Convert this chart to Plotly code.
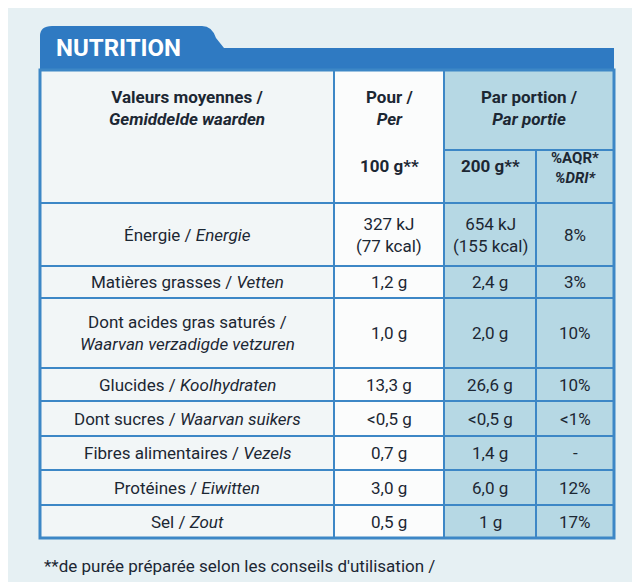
import plotly.graph_objects as go

labels = ["Énergie / <i>Energie</i>", "Matières grasses / <i>Vetten</i>",
          "Dont acides gras saturés /<br><i>Waarvan verzadigde vetzuren</i>",
          "Glucides / <i>Koolhydraten</i>", "Dont sucres / <i>Waarvan suikers</i>",
          "Fibres alimentaires / <i>Vezels</i>", "Protéines / <i>Eiwitten</i>",
          "Sel / <i>Zout</i>"]
per100 = ["327 kJ<br>(77 kcal)", "1,2 g", "1,0 g", "13,3 g", "<0,5 g", "0,7 g", "3,0 g", "0,5 g"]
per200 = ["654 kJ<br>(155 kcal)", "2,4 g", "2,0 g", "26,6 g", "<0,5 g", "1,4 g", "6,0 g", "1 g"]
pct = ["8%", "3%", "10%", "10%", "<1%", "-", "12%", "17%"]
row_edges = [195, 258, 290, 360, 393, 428, 462, 497, 530]

cols = [32, 326, 436, 528, 606]
LINE = "#3d87c6"
TXT = "#1c2733"
FONT = "Liberation Sans Narrow, Roboto, Arial"

fig = go.Figure()
shapes = []
ann = []

shapes.append(dict(type="rect", x0=-20, x1=660, y0=-20, y1=600, fillcolor="#e6f0f3", line_width=0, layer="below"))
shapes.append(dict(type="path", path="M 32 62 L 32 28 Q 32 18 44 18 L 194 18 Q 204 18 208 30 L 216 40 L 606 40 L 606 62 Z",
                   fillcolor="#2f7ac2", line_width=0, layer="below"))
ann.append(dict(x=46, y=40, text="<b>NUTRITION</b>", showarrow=False, xanchor="left",
                font=dict(size=24, color="white", family=FONT)))
shapes.append(dict(type="rect", x0=cols[0], x1=cols[1], y0=62, y1=530, fillcolor="#f2f6f7", line_width=0, layer="below"))
shapes.append(dict(type="rect", x0=cols[1], x1=cols[2], y0=62, y1=530, fillcolor="#fbfcfc", line_width=0, layer="below"))
shapes.append(dict(type="rect", x0=cols[2], x1=cols[4], y0=62, y1=530, fillcolor="#b6d8e4", line_width=0, layer="below"))
shapes.append(dict(type="rect", x0=cols[0], x1=cols[4], y0=62, y1=530, line=dict(color=LINE, width=3)))
for x in cols[1:-1]:
    y0 = 142 if x == cols[3] else 62
    shapes.append(dict(type="line", x0=x, x1=x, y0=y0, y1=530, line=dict(color=LINE, width=2)))
shapes.append(dict(type="line", x0=cols[2], x1=cols[4], y0=142, y1=142, line=dict(color=LINE, width=2)))
for y in row_edges[:-1]:
    shapes.append(dict(type="line", x0=cols[0], x1=cols[4], y0=y, y1=y, line=dict(color=LINE, width=2)))

c0 = (cols[0] + cols[1]) / 2
c1 = (cols[1] + cols[2]) / 2
c2 = (cols[2] + cols[3]) / 2
c3 = (cols[3] + cols[4]) / 2
f = dict(size=17, color=TXT, family=FONT)
ann.append(dict(x=c0, y=100, text="<b>Valeurs moyennes /<br><i>Gemiddelde waarden</i></b>", showarrow=False, font=f))
ann.append(dict(x=c1, y=100, text="<b>Pour /<br><i>Per</i></b>", showarrow=False, font=f))
ann.append(dict(x=c1, y=158, text="<b>100 g**</b>", showarrow=False, font=f))
ann.append(dict(x=(cols[2] + cols[4]) / 2, y=100, text="<b>Par portion /<br><i>Par portie</i></b>", showarrow=False, font=f))
ann.append(dict(x=c2, y=158, text="<b>200 g**</b>", showarrow=False, font=f))
ann.append(dict(x=c3, y=160, text="<b>%AQR*<br><i>%DRI*</i></b>", showarrow=False, font=dict(size=15, color=TXT, family=FONT)))

for i in range(len(labels)):
    yc = (row_edges[i] + row_edges[i + 1]) / 2
    for x, t in [(c0, labels[i]), (c1, per100[i]), (c2, per200[i]), (c3, pct[i])]:
        ann.append(dict(x=x, y=yc, text=t, showarrow=False, font=f))

ann.append(dict(x=34, y=558, text="**de purée préparée selon les conseils d'utilisation /", showarrow=False,
                xanchor="left", font=dict(size=17, color=TXT, family=FONT)))

fig.update_layout(width=640, height=582, margin=dict(l=0, r=0, t=0, b=0),
                  xaxis=dict(range=[0, 640], visible=False, fixedrange=True),
                  yaxis=dict(range=[582, 0], visible=False, fixedrange=True),
                  plot_bgcolor="#e6f0f3", paper_bgcolor="#e6f0f3",
                  shapes=shapes, annotations=ann, showlegend=False)
fig.write_html("out.html")
